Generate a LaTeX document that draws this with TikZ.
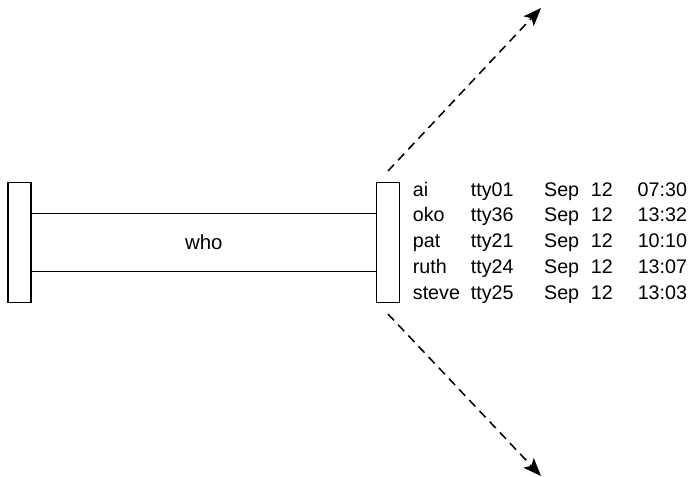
\documentclass[tikz,border=0pt]{standalone}
\usepackage{fontspec}
\setmainfont{Liberation Sans}
\usetikzlibrary{positioning}
\usetikzlibrary{arrows.meta}

\begin{document}
\begin{tikzpicture}[x=0.025cm, y=-0.025cm, line width=1pt,
    font=\fontsize{14pt}{0.645cm}\selectfont,
    bar/.style={draw, minimum width=0.575cm, minimum height=3cm, inner sep=0pt},
    flow/.style={-{Stealth[length=0.45cm, width=0.35cm, inset=0.1cm]}, dash pattern=on 0.22cm off 0.15cm, line width=1.1pt}]
    \useasboundingbox (0,0) rectangle (689,477);
    \node[bar] (lbar) at (19.5,242.5) {};
    \node[bar, right=8.6cm of lbar] (rbar) {};
    \draw ([yshift=0.73cm]lbar.east) -- ([yshift=0.73cm]rbar.west);
    \draw ([yshift=-0.73cm]lbar.east) -- ([yshift=-0.73cm]rbar.west);
    \path (lbar) -- node[font=\fontsize{14.5pt}{17pt}\selectfont] {who} (rbar);
    \node[inner sep=0pt, right=0.3cm of rbar] (users) {\setlength{\tabcolsep}{0pt}%
        \begin{tabular}{@{}p{1.45cm}p{1.83cm}p{1.17cm}p{1.17cm}l@{}}
            ai & tty01 & Sep & 12 & 07:30\\
            oko & tty36 & Sep & 12 & 13:32\\
            pat & tty21 & Sep & 12 & 10:10\\
            ruth & tty24 & Sep & 12 & 13:07\\
            steve & tty25 & Sep & 12 & 13:03
        \end{tabular}};
    \coordinate[above=0.27cm of rbar.north] (upfrom);
    \coordinate (upto) at (541,8);
    \coordinate[below=0.27cm of rbar.south] (downfrom);
    \coordinate (downto) at (541,476);

    \draw[flow] (upfrom) -- (upto);
    \draw[flow] (downfrom) -- (downto);
\end{tikzpicture}
\end{document}
